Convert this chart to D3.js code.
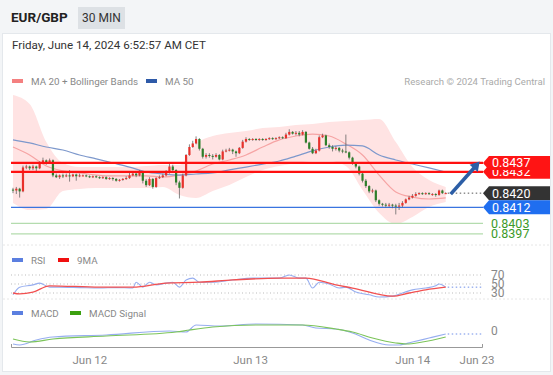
<!DOCTYPE html>
<html>
<head>
<meta charset="utf-8">
<script src="https://cdn.jsdelivr.net/npm/d3@7"></script>
<style>
  body { margin: 0; background: #fff; font-family: Roboto, 'Liberation Sans', Arial, sans-serif; }
</style>
</head>
<body>
<script>
//////////////////////////////////////////////////////////////////////////////
// data (candle prices are pips above 0.8400)
//////////////////////////////////////////////////////////////////////////////
let base = 0.84
let firstOpen = 22
let closes = [21.5, 22.5, 21, 34.5, 35, 34, 35, 34, 37, 38.5,
  37, 38.5, 30, 29, 30, 29.5, 30, 29.5, 30.5, 29.5,
  30, 30, 29.5, 29, 29.5, 29, 28.5, 29, 28, 28.5,
  28, 27, 27.5, 28, 28.5, 30, 31, 30, 31.5, 27,
  24.5, 28, 23.5, 28.5, 29, 30, 31.5, 35, 33, 26,
  23, 30, 41.5, 46, 48, 50.5, 45, 40.5, 41.5, 41,
  40.5, 41.5, 39, 43.5, 44, 44.5, 43.5, 42.5, 45.5, 49,
  50.5, 50, 50.5, 50, 50.5, 50, 50.5, 51, 50.5, 51,
  51.5, 51, 53, 54.5, 53.5, 54, 53, 54.5, 48.5, 45,
  42.5, 44, 51.5, 52.5, 47, 46, 45, 45.5, 44, 43.5,
  43, 40, 37, 35, 31, 27, 24, 21, 21.5, 16,
  14, 13.5, 13, 13.5, 13, 12.5, 13, 14.5, 16.5, 17.5,
  18.5, 19.5, 20, 19.5, 20, 19.5, 19.5, 19, 21.5, 20,
  20]
let highs = [23, 23.5, 23, 35.5, 36, 35.5, 36, 35.5, 38, 40,
  39, 39.5, 39, 31, 30.5, 31, 31, 33, 31, 31,
  31, 30.5, 30.5, 30, 30, 30, 29.5, 29.5, 29.5, 29,
  29, 28.5, 28, 28.5, 29.5, 31.5, 32, 32.5, 33, 32,
  28, 29, 28.5, 29, 30, 31, 33, 37, 36, 33.5,
  27, 31, 42, 47.5, 49.5, 52, 51, 45.5, 42.5, 42.5,
  42, 42.5, 42, 44.5, 45, 45.5, 45, 44, 46, 50,
  51.5, 51, 51, 51, 51, 51, 51, 51.5, 51.5, 51.5,
  52, 52, 54, 56, 55, 55, 55, 55.5, 55, 49,
  46, 45, 52.5, 53.5, 53, 48, 47, 46.5, 46, 45,
  53, 43.5, 40.5, 37.5, 35.5, 31.5, 28, 24.5, 22.5, 22,
  16.5, 14.5, 14.5, 14.5, 14, 14, 14.5, 15.5, 17, 18.5,
  19.5, 20.5, 20.5, 20.5, 20.5, 20.5, 20, 20, 22, 22,
  20.5]
let lows = [20, 19.5, 17.5, 20.5, 33.5, 33, 33, 32, 33.5, 36.5,
  36, 36.5, 29, 28.5, 28, 28.5, 29, 26.5, 29, 27,
  29, 29.5, 29, 28.5, 28.5, 28.5, 28, 28, 27.5, 27.5,
  27, 26.5, 26.5, 27, 27.5, 28, 29.5, 29, 29.5, 25.5,
  23.5, 24, 22.5, 23, 28, 28.5, 29.5, 31, 32.5, 24.5,
  17, 22.5, 29.5, 41, 45.5, 47.5, 44, 39.5, 39.5, 40,
  39, 40, 38.5, 38.5, 43, 43.5, 42, 40.5, 42, 45,
  48.5, 49.5, 49.5, 49.5, 49.5, 49.5, 49.5, 50, 50, 50,
  50.5, 50.5, 50.5, 52.5, 53, 52.5, 52, 52.5, 48, 44.5,
  42, 42, 43.5, 51, 46.5, 45, 43.5, 44, 43, 42.5,
  42.5, 39, 36, 34, 30, 26, 23, 20, 20, 15,
  13, 12.5, 12, 12, 11.5, 8, 10.5, 12, 14, 16,
  17, 18, 19, 19, 19, 19, 18.5, 18, 18.5, 19.5,
  19.5]

// indicator samples, every 5 candles
let bbIdx = [0, 5, 10, 15, 20, 25, 30, 35, 40, 45, 50, 55, 60, 65, 70, 75, 80, 85, 90, 95, 100, 105, 110, 115, 120, 125, 130]
let bbUpper = [0.84753, 0.84702, 0.84488, 0.84370, 0.84347, 0.84347, 0.84347, 0.84347, 0.84353, 0.84359, 0.84359, 0.84477, 0.84522, 0.84539,
  0.84550, 0.84567, 0.84573, 0.84584, 0.84590, 0.84601, 0.84607, 0.84612, 0.84618, 0.84488, 0.84347, 0.84274, 0.84235]
let bbLower = [0.84145, 0.84105, 0.84111, 0.84212, 0.84224, 0.84229, 0.84229, 0.84229, 0.84229, 0.84235, 0.84190, 0.84173, 0.84212, 0.84246,
  0.84291, 0.84331, 0.84353, 0.84370, 0.84381, 0.84381, 0.84353, 0.84218, 0.84088, 0.84026, 0.84066, 0.84122, 0.84150]
let ma20 = [0.84460, 0.84415, 0.84353, 0.84325, 0.84314, 0.84302, 0.84297, 0.84297, 0.84297, 0.84291, 0.84302, 0.84325, 0.84364, 0.84387,
  0.84415, 0.84460, 0.84500, 0.84522, 0.84533, 0.84522, 0.84477, 0.84415, 0.84302, 0.84207, 0.84178, 0.84167, 0.84173]
let ma50 = [0.84500, 0.84483, 0.84460, 0.84443, 0.84415, 0.84393, 0.84370, 0.84347, 0.84319, 0.84308, 0.84302, 0.84308, 0.84314, 0.84331,
  0.84347, 0.84364, 0.84381, 0.84409, 0.84438, 0.84460, 0.84471, 0.84466, 0.84415, 0.84387, 0.84364, 0.84342, 0.84319]

// key levels
let resistLevels = [0.8437, 0.8432]
let supportLevel = 0.8412
let lowerLevels = [0.8403, 0.8397]
let lastPrice = 0.8420
let arrowTarget = { idx: 140.2, price: 0.84378 }

// RSI + 9MA
let rsiIdx = [0, 2, 6, 8, 11, 14, 20, 26, 31, 36, 37, 39, 41, 43, 46, 48, 50, 52, 54, 56, 60, 66, 72, 80, 83, 86, 88, 90, 92, 95, 98, 100,
  103, 107, 110, 114, 117, 120, 124, 127, 128, 130]
let rsiVal = [26, 43, 48, 52, 43, 43, 42, 41, 42, 41, 54, 43, 54, 48, 52, 54, 43, 59, 63, 54, 54, 59, 63, 63, 70, 63, 63, 41, 54, 50, 41, 43,
  32, 26, 21, 23, 30, 37, 41, 46, 50, 43]
let rsiMaIdx = [0, 2, 6, 11, 26, 36, 46, 56, 66, 80, 88, 97, 102, 114, 119, 124, 130]
let rsiMaVal = [30, 28, 32, 46, 43, 43, 52, 54, 59, 63, 63, 48, 41, 23, 30, 37, 43]
let rsiLevels = [70, 50, 30]

// MACD + signal
let macdIdx = [0, 2, 7, 12, 28, 47, 52, 55, 62, 73, 87, 91, 97, 102, 107, 113, 116, 120, 125, 130]
let macdVal = [-0.00013, -0.00014, -0.00009, -0.00006, -0.00004, 0.0, -0.00001, 0.00006, 0.00005, 0.00007, 0.00006, 0.00003, 0.00002,
  -0.00002, -0.00009, -0.00014, -0.00014, -0.00011, -0.00007, -0.00003]
let sigIdx = [0, 5, 12, 28, 49, 53, 60, 73, 87, 97, 102, 108, 115, 118, 123, 130]
let sigVal = [-0.00008, -0.00011, -0.00008, -0.00005, -0.00001, 0.00001, 0.00004, 0.00006, 0.00006, 0.00002, -0.00001, -0.00007,
  -0.00012, -0.00013, -0.00011, -0.00006]

// time axis
let tickIdx = [23.1, 71.4, 120.1, 139.4]
let tickLabels = ['Jun 12', 'Jun 13', 'Jun 14', 'Jun 23']

//////////////////////////////////////////////////////////////////////////////
// svg + frame
//////////////////////////////////////////////////////////////////////////////
let width = 553
let height = 375
let svg = d3
  .select('body')
  .append('svg')
  .attr('width', width)
  .attr('height', height)

svg.append('rect').attr('width', width).attr('height', height).attr('fill', '#f3f5f7')
svg
  .append('rect')
  .attr('x', 2.5)
  .attr('y', 33.5)
  .attr('width', 548)
  .attr('height', 338)
  .attr('fill', '#fff')
  .attr('stroke', '#e4e8ec')

// header
svg
  .append('text')
  .attr('x', 11)
  .attr('y', 22)
  .attr('font-size', 13.5)
  .attr('font-weight', 'bold')
  .attr('fill', '#222')
  .text('EUR/GBP')
svg
  .append('rect')
  .attr('x', 78)
  .attr('y', 7)
  .attr('width', 47)
  .attr('height', 22)
  .attr('fill', '#dde1e5')
svg
  .append('text')
  .attr('x', 101.5)
  .attr('y', 22)
  .attr('text-anchor', 'middle')
  .attr('font-size', 12)
  .attr('fill', '#333')
  .text('30 MIN')
svg
  .append('text')
  .attr('x', 12)
  .attr('y', 49)
  .attr('font-size', 11.6)
  .attr('fill', '#333')
  .text('Friday, June 14, 2024 6:52:57 AM CET')

// legends
function legendItem (x, y, color, label) {
  svg
    .append('rect')
    .attr('x', x)
    .attr('y', y - 2)
    .attr('width', 11)
    .attr('height', 4)
    .attr('fill', color)
  svg
    .append('text')
    .attr('x', x + 19)
    .attr('y', y + 4)
    .attr('font-size', 9.8)
    .attr('fill', '#888')
    .text(label)
}
legendItem(12, 81, '#f48080', 'MA 20 + Bollinger Bands')
legendItem(146, 81, '#2e5aa8', 'MA 50')
legendItem(12, 260, '#5b7fe0', 'RSI')
legendItem(58, 260, '#f01010', '9MA')
legendItem(12, 313, '#5b7fe0', 'MACD')
legendItem(70, 313, '#3ca010', 'MACD Signal')

svg
  .append('text')
  .attr('x', 545)
  .attr('y', 85)
  .attr('text-anchor', 'end')
  .attr('font-size', 9.6)
  .attr('fill', '#aaa')
  .text('Research \u00a9 2024 Trading Central')

// panel separators
;[245, 299].forEach(yy => {
  svg
    .append('line')
    .attr('x1', 3)
    .attr('x2', 550)
    .attr('y1', yy)
    .attr('y2', yy)
    .attr('stroke', '#e6e6e6')
    .attr('stroke-dasharray', '2,2')
})

//////////////////////////////////////////////////////////////////////////////
// scales
//////////////////////////////////////////////////////////////////////////////
let x = d3.scaleLinear().domain([-0.6, 141.2]).range([11, 483])
let y = d3.scaleLinear().domain([0.83936, 0.84753]).range([240, 95])
let yR = d3.scaleLinear().domain([30, 70]).range([293, 275])
let yM = d3.scaleLinear().domain([-0.00017, 0.00013]).range([348, 318])
let px = v => base + v / 10000

let candles = closes.map((c, i) => ({
  i: i,
  o: px(i ? closes[i - 1] : firstOpen),
  h: px(highs[i]),
  l: px(lows[i]),
  c: px(c)
}))

//////////////////////////////////////////////////////////////////////////////
// main price panel
//////////////////////////////////////////////////////////////////////////////
let main = svg.append('g')

let band = bbIdx.map((d, k) => ({ i: d, up: bbUpper[k], lo: bbLower[k], m20: ma20[k], m50: ma50[k] }))

main
  .append('path')
  .datum(band)
  .attr('fill', '#ffe3e3')
  .attr('d', d3.area().curve(d3.curveMonotoneX).x(d => x(d.i)).y0(d => y(d.lo)).y1(d => y(d.up)))
main
  .append('path')
  .datum(band)
  .attr('fill', 'none')
  .attr('stroke', '#f6a4a4')
  .attr('stroke-width', 1.2)
  .attr('d', d3.line().curve(d3.curveMonotoneX).x(d => x(d.i)).y(d => y(d.m20)))
main
  .append('path')
  .datum(band)
  .attr('fill', 'none')
  .attr('stroke', '#7d98cc')
  .attr('stroke-width', 1.2)
  .attr('d', d3.line().curve(d3.curveMonotoneX).x(d => x(d.i)).y(d => y(d.m50)))

// support / resistance lines
lowerLevels.forEach(p => {
  main
    .append('line')
    .attr('x1', 11)
    .attr('x2', 483)
    .attr('y1', y(p))
    .attr('y2', y(p))
    .attr('stroke', '#b4dcae')
    .attr('stroke-width', 1.2)
})
main
  .append('line')
  .attr('x1', 11)
  .attr('x2', 483)
  .attr('y1', y(supportLevel))
  .attr('y2', y(supportLevel))
  .attr('stroke', '#3a74e0')
  .attr('stroke-width', 1.3)

// candles
let cw = 2.2
let cg = main.selectAll('.candle').data(candles).join('g').attr('class', 'candle')
cg.append('line')
  .attr('x1', d => x(d.i))
  .attr('x2', d => x(d.i))
  .attr('y1', d => y(d.h))
  .attr('y2', d => y(d.l))
  .attr('stroke', '#666')
  .attr('stroke-width', 0.8)
cg.append('rect')
  .attr('x', d => x(d.i) - cw / 2)
  .attr('y', d => y(Math.max(d.o, d.c)))
  .attr('width', cw)
  .attr('height', d => Math.max(1, Math.abs(y(d.o) - y(d.c))))
  .attr('fill', d => (d.c >= d.o ? '#e8312b' : '#2d7f2a'))

resistLevels.forEach(p => {
  main
    .append('line')
    .attr('x1', 11)
    .attr('x2', 483)
    .attr('y1', y(p))
    .attr('y2', y(p))
    .attr('stroke', '#ff1010')
    .attr('stroke-width', 2.2)
})

// dotted line from last price
let lastIdx = closes.length - 1
main
  .append('line')
  .attr('x1', x(lastIdx) + 2)
  .attr('x2', 483)
  .attr('y1', y(lastPrice))
  .attr('y2', y(lastPrice))
  .attr('stroke', '#555')
  .attr('stroke-dasharray', '1.5,2.5')

// forecast arrow
let ax0 = x(lastIdx + 1.5)
let ay0 = y(lastPrice) + 1
let ax1 = x(arrowTarget.idx)
let ay1 = y(arrowTarget.price)
let ang = Math.atan2(ay1 - ay0, ax1 - ax0)
let hl = 9
let hw = 5.5
main
  .append('line')
  .attr('x1', ax0)
  .attr('y1', ay0)
  .attr('x2', ax1 - Math.cos(ang) * hl * 0.8)
  .attr('y2', ay1 - Math.sin(ang) * hl * 0.8)
  .attr('stroke', '#2c5ea6')
  .attr('stroke-width', 3.6)
let bx = ax1 - Math.cos(ang) * hl
let by = ay1 - Math.sin(ang) * hl
main
  .append('path')
  .attr('fill', '#2c5ea6')
  .attr('d', `M${ax1},${ay1}L${bx - Math.sin(ang) * hw},${by + Math.cos(ang) * hw}L${bx + Math.sin(ang) * hw},${by - Math.cos(ang) * hw}Z`)

// right side price tags
function tag (p, color, label) {
  let yc = y(p)
  svg
    .append('path')
    .attr('fill', color)
    .attr('d', `M483,${yc}L489,${yc - 7}L550,${yc - 7}L550,${yc + 7}L489,${yc + 7}Z`)
  svg
    .append('text')
    .attr('x', 492)
    .attr('y', yc + 4.5)
    .attr('font-size', 12.5)
    .attr('fill', '#fff')
    .text(label)
}
tag(resistLevels[1], '#ff1414', '0.8432')
tag(resistLevels[0], '#ff1414', '0.8437')
tag(lastPrice, '#333', '0.8420')
tag(supportLevel, '#1f6ef0', '0.8412')
lowerLevels.forEach(p => {
  svg
    .append('text')
    .attr('x', 491)
    .attr('y', y(p) + 4.5)
    .attr('font-size', 12.5)
    .attr('fill', '#3c9a2a')
    .text(p.toFixed(4))
})

//////////////////////////////////////////////////////////////////////////////
// RSI panel
//////////////////////////////////////////////////////////////////////////////
rsiLevels.forEach(v => {
  svg
    .append('line')
    .attr('x1', 11)
    .attr('x2', 483)
    .attr('y1', yR(v))
    .attr('y2', yR(v))
    .attr('stroke', '#bbb')
    .attr('stroke-dasharray', '1,2.5')
  svg
    .append('text')
    .attr('x', 491)
    .attr('y', yR(v) + 4)
    .attr('font-size', 12)
    .attr('fill', '#888')
    .text(v)
})
let rsiPts = rsiIdx.map((d, k) => [x(d), yR(rsiVal[k])])
let rsiMaPts = rsiMaIdx.map((d, k) => [x(d), yR(rsiMaVal[k])])
svg
  .append('path')
  .attr('fill', 'none')
  .attr('stroke', '#97aef0')
  .attr('stroke-width', 1.1)
  .attr('d', d3.line().curve(d3.curveMonotoneX)(rsiPts))
svg
  .append('path')
  .attr('fill', 'none')
  .attr('stroke', '#f25050')
  .attr('stroke-width', 1.3)
  .attr('d', d3.line().curve(d3.curveMonotoneX)(rsiMaPts))
svg
  .append('line')
  .attr('x1', x(lastIdx) + 2)
  .attr('x2', 483)
  .attr('y1', yR(rsiVal[rsiVal.length - 1]))
  .attr('y2', yR(rsiVal[rsiVal.length - 1]))
  .attr('stroke', '#6e8ee8')
  .attr('stroke-dasharray', '1.5,2.5')

//////////////////////////////////////////////////////////////////////////////
// MACD panel
//////////////////////////////////////////////////////////////////////////////
svg
  .append('text')
  .attr('x', 491)
  .attr('y', yM(0) + 4)
  .attr('font-size', 12)
  .attr('fill', '#888')
  .text('0')
let macdPts = macdIdx.map((d, k) => [x(d), yM(macdVal[k])])
let sigPts = sigIdx.map((d, k) => [x(d), yM(sigVal[k])])
svg
  .append('path')
  .attr('fill', 'none')
  .attr('stroke', '#97aef0')
  .attr('stroke-width', 1.2)
  .attr('d', d3.line().curve(d3.curveMonotoneX)(macdPts))
svg
  .append('path')
  .attr('fill', 'none')
  .attr('stroke', '#7cc45a')
  .attr('stroke-width', 1.2)
  .attr('d', d3.line().curve(d3.curveMonotoneX)(sigPts))
svg
  .append('line')
  .attr('x1', x(lastIdx) + 2)
  .attr('x2', 483)
  .attr('y1', yM(macdVal[macdVal.length - 1]))
  .attr('y2', yM(macdVal[macdVal.length - 1]))
  .attr('stroke', '#6e8ee8')
  .attr('stroke-dasharray', '1.5,2.5')

//////////////////////////////////////////////////////////////////////////////
// time axis
//////////////////////////////////////////////////////////////////////////////
let axisY = 347
svg
  .append('path')
  .attr('fill', 'none')
  .attr('stroke', '#999')
  .attr('d', `M11.5,${axisY - 3}V${axisY + 0.5}H482.5V${axisY - 3}`)
tickIdx.forEach((t, k) => {
  svg
    .append('text')
    .attr('x', x(t))
    .attr('y', 364)
    .attr('text-anchor', 'middle')
    .attr('font-size', 11.5)
    .attr('fill', '#888')
    .text(tickLabels[k])
})
</script>
</body>
</html>
